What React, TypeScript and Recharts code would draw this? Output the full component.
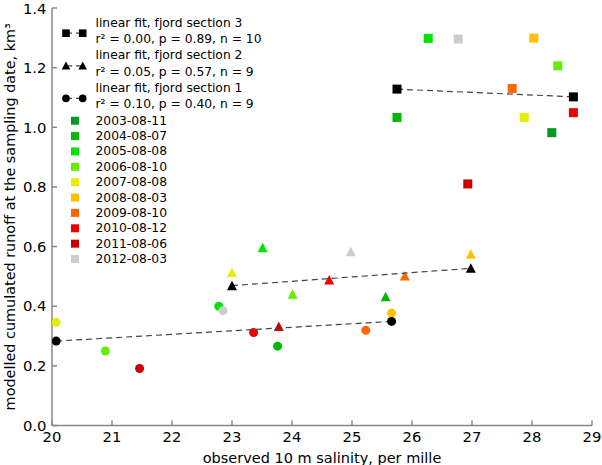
import React from 'react'
import { ScatterChart, Scatter, XAxis, YAxis, Legend } from 'recharts'

// sampling dates and their colours
const years = [
  '2003-08-11', '2004-08-07', '2005-08-08', '2006-08-10', '2007-08-08',
  '2008-08-03', '2009-08-10', '2010-08-12', '2011-08-06', '2012-08-03'
]
const yearColors = [
  '#009a24', '#00b800', '#00e400', '#66ee00', '#e4ee00',
  '#ffc000', '#ff6600', '#ee0000', '#cc0000', '#cccccc'
]

// fjord section 3 (squares), one value per year
const salinitySec3 = [28.33, 25.75, 26.27, 28.43, 27.87, 28.03, 27.67, 28.69, 26.93, 26.77]
const runoffSec3 = [0.982, 1.033, 1.298, 1.206, 1.033, 1.299, 1.130, 1.049, 0.810, 1.296]

// fjord section 2 (triangles), no 2003 value
const salinitySec2 = [null, 25.56, 23.51, 24.01, 23.0, 26.98, 25.88, 24.62, 23.78, 24.98]
const runoffSec2 = [null, 0.432, 0.596, 0.440, 0.513, 0.574, 0.501, 0.488, 0.332, 0.583]

// fjord section 1 (circles), no 2003 value
const salinitySec1 = [null, 23.76, 22.78, 20.89, 20.07, 25.66, 25.23, 23.36, 21.46, 22.85]
const runoffSec1 = [null, 0.266, 0.400, 0.250, 0.346, 0.377, 0.319, 0.312, 0.191, 0.385]

// linear fit end points
const fitSalinity3 = [25.75, 28.69]
const fitRunoff3 = [1.128, 1.102]
const fitSalinity2 = [23.0, 26.98]
const fitRunoff2 = [0.469, 0.527]
const fitSalinity1 = [20.07, 25.66]
const fitRunoff1 = [0.283, 0.349]

const fitLabels = ['linear fit, fjord section 3', 'linear fit, fjord section 2', 'linear fit, fjord section 1']
const fitStats = ['r² = 0.00, p = 0.89, n = 10', 'r² = 0.05, p = 0.57, n = 9', 'r² = 0.10, p = 0.40, n = 9']
const fitShapes = ['square', 'triangle', 'circle']

const xTicks = [20, 21, 22, 23, 24, 25, 26, 27, 28, 29]
const yTicks = [0, 0.2, 0.4, 0.6, 0.8, 1.0, 1.2, 1.4]

const toPoints = (xs: (number | null)[], ys: (number | null)[], colors?: string[]) =>
  xs.map((x, i) => ({ x, y: ys[i], color: colors ? colors[i] : '#000' }))
    .filter(p => p.x !== null && p.y !== null)

const sec3 = toPoints(salinitySec3, runoffSec3, yearColors)
const sec2 = toPoints(salinitySec2, runoffSec2, yearColors)
const sec1 = toPoints(salinitySec1, runoffSec1, yearColors)
const fit3 = toPoints(fitSalinity3, fitRunoff3)
const fit2 = toPoints(fitSalinity2, fitRunoff2)
const fit1 = toPoints(fitSalinity1, fitRunoff1)

const AXIS = '#888888'
const FIT_LINE = { stroke: '#444', strokeWidth: 1.2, strokeDasharray: '6 4' }

function marker(kind: string, cx: number, cy: number, fill: string, r = 4.5) {
  if (kind === 'square') return <rect x={cx - r} y={cy - r} width={r * 2} height={r * 2} fill={fill} />
  if (kind === 'triangle')
    return <polygon points={`${cx},${cy - r - 0.5} ${cx - r - 0.5},${cy + r} ${cx + r + 0.5},${cy + r}`} fill={fill} />
  return <circle cx={cx} cy={cy} r={r} fill={fill} />
}

const SquareShape = (p: any) => marker('square', p.cx, p.cy, p.payload.color)
const TriangleShape = (p: any) => marker('triangle', p.cx, p.cy, p.payload.color)
const CircleShape = (p: any) => marker('circle', p.cx, p.cy, p.payload.color)

const YTitle = ({ viewBox }: any) => {
  const cy = viewBox.y + viewBox.height / 2
  return (
    <text x={10} y={cy} transform={`rotate(-90, 10, ${cy})`} textAnchor="middle" dy="0.35em" fontSize={14.4} fill="#000">
      modelled cumulated runoff at the sampling date, km³
    </text>
  )
}

// chart is 465 high; title centred about 7px above the bottom edge
const XTitle = ({ viewBox }: any) => (
  <text x={viewBox.x + viewBox.width / 2} y={458} textAnchor="middle" dominantBaseline="central" fontSize={14.5} fill="#000">
    observed 10 m salinity, per mille
  </text>
)

const renderLegend = () => (
  <svg width={320} height={270} style={{ display: 'block' }}>
    {fitLabels.map((label, i) => {
      const y1 = 22.7 + i * 32.6
      const my = y1 + 10.5
      return (
        <g key={label}>
          <line x1={66} x2={82.7} y1={my} y2={my} {...FIT_LINE} />
          {marker(fitShapes[i], 66, my, '#000', 3.8)}
          {marker(fitShapes[i], 82.7, my, '#000', 3.8)}
          <text x={95.5} y={y1} dominantBaseline="central" fontSize={12.3} fill="#000">{label}</text>
          <text x={95.5} y={y1 + 16.3} dominantBaseline="central" fontSize={12.3} fill="#000">{fitStats[i]}</text>
        </g>
      )
    })}
    {years.map((yr, j) => {
      const y = 120.7 + j * 15.37
      return (
        <g key={yr}>
          <rect x={71} y={y - 4} width={8} height={8} fill={yearColors[j]} />
          <text x={95.5} y={y} dominantBaseline="central" fontSize={12.3} fill="#000">{yr}</text>
        </g>
      )
    })}
  </svg>
)

export default function App() {
  return (
    <div style={{ position: 'absolute', left: 0, top: 0, fontFamily: '"DejaVu Sans", sans-serif' }}>
      <ScatterChart width={602} height={465} margin={{ top: 8, right: 10, bottom: 0, left: 0 }}>
        <XAxis
          type="number"
          dataKey="x"
          domain={[20, 29]}
          ticks={xTicks}
          allowDataOverflow
          height={39.5}
          tickSize={-5}
          tickMargin={11}
          stroke={AXIS}
          strokeWidth={1.5}
          tick={{ fill: '#000', fontSize: 14.8 }}
          label={<XTitle />}
        />
        <XAxis
          xAxisId="top"
          orientation="top"
          type="number"
          domain={[20, 29]}
          ticks={xTicks}
          allowDataOverflow
          height={0}
          tickSize={-5}
          tick={false}
          stroke={AXIS}
          strokeWidth={1.5}
        />
        <YAxis
          type="number"
          dataKey="y"
          domain={[0, 1.4]}
          ticks={yTicks}
          allowDataOverflow
          width={52}
          tickSize={-5}
          tickMargin={10.5}
          stroke={AXIS}
          strokeWidth={1.5}
          tickFormatter={(v: number) => v.toFixed(1)}
          tick={{ fill: '#000', fontSize: 14.8 }}
          label={<YTitle />}
        />
        <YAxis
          yAxisId="right"
          orientation="right"
          type="number"
          domain={[0, 1.4]}
          ticks={yTicks}
          allowDataOverflow
          width={0}
          tickSize={-5}
          tick={false}
          stroke={AXIS}
          strokeWidth={1.5}
        />
        <Legend layout="vertical" align="center" verticalAlign="middle" content={renderLegend}
          wrapperStyle={{ left: 0, top: 0, width: 320, height: 270 }} />

        <Scatter data={sec3} shape={SquareShape} isAnimationActive={false} />
        <Scatter data={sec2} shape={TriangleShape} isAnimationActive={false} />
        <Scatter data={sec1} shape={CircleShape} isAnimationActive={false} />

        <Scatter data={fit3} shape={SquareShape} line={FIT_LINE} isAnimationActive={false} />
        <Scatter data={fit2} shape={TriangleShape} line={FIT_LINE} isAnimationActive={false} />
        <Scatter data={fit1} shape={CircleShape} line={FIT_LINE} isAnimationActive={false} />
      </ScatterChart>
    </div>
  )
}
